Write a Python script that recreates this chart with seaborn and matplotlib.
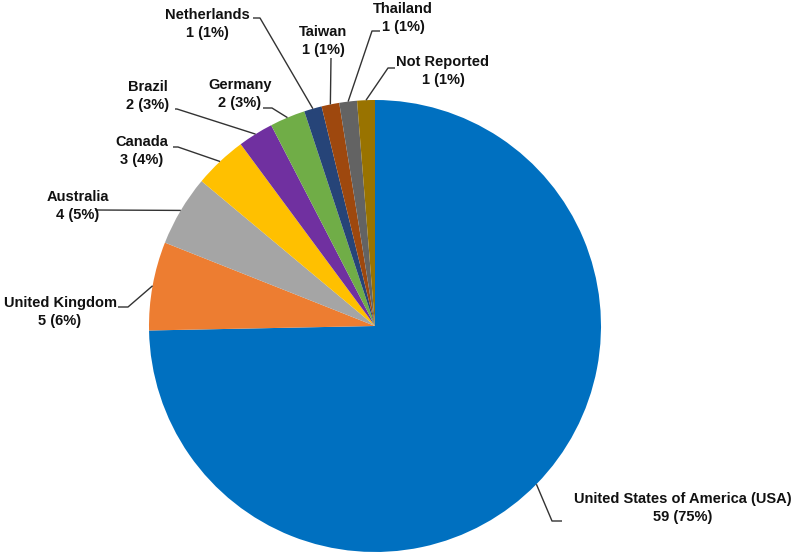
import numpy as np
import matplotlib
matplotlib.use("Agg")
import matplotlib.pyplot as plt
import seaborn as sns

# Data
countries = ["United States of America (USA)", "United Kingdom", "Australia", "Canada",
             "Brazil", "Germany", "Netherlands", "Taiwan", "Thailand", "Not Reported"]
counts = [59, 5, 4, 3, 2, 2, 1, 1, 1, 1]
percent_labels = ["75%", "6%", "5%", "4%", "3%", "3%", "1%", "1%", "1%", "1%"]
colors = ["#0070C0", "#ED7D31", "#A5A5A5", "#FFC000", "#7030A0",
          "#70AD47", "#264478", "#9E480E", "#636363", "#997300"]

# Layout (pixel coords in the 797x555 image, y down)
cx, cy, rad = 375, 326, 226
text_pos = [(683, 508), (60, 312), (78, 206), (142, 151), (148, 96),
            (240, 94), (207, 24), (323, 41), (403, 18), (443, 71)]
line_start = [(562, 521), (118, 307), (95, 210), (173, 147), (175, 109),
              (263, 108), (253, 18), (331, 58), (380, 31), (395, 68)]
line_elbow = [(552, 521), (128, 307), (95, 210), (178, 147), (177, 109),
              (272, 108), (260, 18), (331, 58), (372, 31), (388, 68)]

sns.set_theme(style="white")
plt.rcParams["font.family"] = ["Liberation Sans", "DejaVu Sans"]

fig = plt.figure(figsize=(7.97, 5.55), dpi=100)
ax = fig.add_axes([0, 0, 1, 1])

pal = sns.color_palette(colors)
wedges, _ = ax.pie(counts, colors=pal, startangle=90, counterclock=False,
                   wedgeprops=dict(linewidth=0))


def to_data(p):
    return ((p[0] - cx) / rad, (cy - p[1]) / rad)


for i, w in enumerate(wedges):
    mid = np.deg2rad((w.theta1 + w.theta2) / 2)
    anchor = (np.cos(mid), np.sin(mid))
    s = to_data(line_start[i])
    e = to_data(line_elbow[i])
    ax.plot([s[0], e[0], anchor[0]], [s[1], e[1], anchor[1]],
            color="#333333", lw=1, solid_capstyle="butt")
    tx, ty = to_data(text_pos[i])
    ax.text(tx, ty, f"{countries[i]}\n{counts[i]} ({percent_labels[i]})",
            ha="center", va="center", fontsize=10.5, fontweight="bold",
            color="#111111", linespacing=1.35)

ax.set_xlim(-cx / rad, (797 - cx) / rad)
ax.set_ylim((cy - 555) / rad, cy / rad)
ax.set_aspect("equal")
ax.axis("off")

fig.savefig("out.png", dpi=100)
